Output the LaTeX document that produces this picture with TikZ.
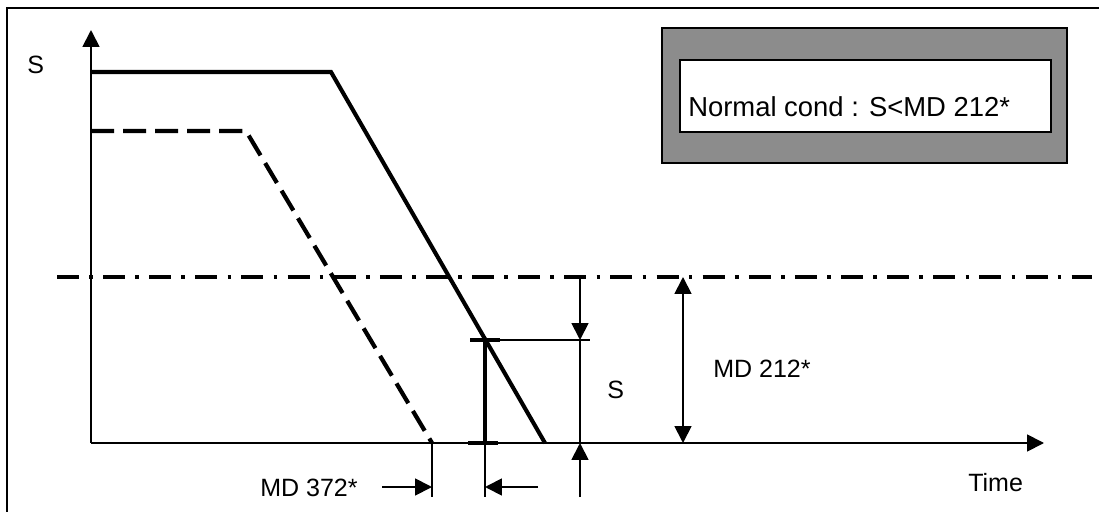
\documentclass[tikz,border=0pt]{standalone}
\usepackage{fontspec}
\setmainfont{Liberation Sans}
\usetikzlibrary{arrows.meta}
\begin{document}
\begin{tikzpicture}[x=0.025cm,y=-0.025cm,
  thinline/.style={line width=1.3pt},
  thickline/.style={line width=2.9pt},
  tip/.tip={Triangle[length=12pt,width=12pt]},
  arr/.style={thinline,-tip},
  dbl/.style={thinline,tip-tip},
  dashline/.style={line width=3pt,dash pattern=on 16.4pt off 6.4pt},
  dashdot/.style={line width=3.2pt,dash pattern=on 15.6pt off 7.3pt on 2.6pt off 7.3pt},
  lbl/.style={inner sep=0pt,anchor=base west,font=\fontsize{17.8}{20}\selectfont},
  boxlbl/.style={inner sep=0pt,anchor=base west,font=\fontsize{19.5}{22}\selectfont}]
\useasboundingbox (0,0) rectangle (1099,512);
% frame
\draw[line width=1.4pt] (7,512) -- (7,8) -- (1099,8);
% legend box
\draw[line width=0.9pt,fill=black!45] (662,28) rectangle (1067,163);
\draw[line width=1.3pt,fill=white] (680,60) rectangle (1051,132);
\node[boxlbl] (cond) at (688,117) {Normal cond : S<MD 212*};
% coordinates
\coordinate (O) at (91,443);
\coordinate (Ytop) at (91,30);
\coordinate (Xend) at (1044,443);
\coordinate (s1) at (91,72);
\coordinate (s2) at (331,72);
\coordinate (s3) at (545,443);
\coordinate (d1) at (91,131);
\coordinate (d2) at (246,131);
\coordinate (d3) at (432,443);
\coordinate (l1) at (57,277);
\coordinate (l2) at (1092,277);
\coordinate (b1) at (485,340);
\coordinate (b2) at (485,443);
\coordinate (h2) at (590,340);
\coordinate (v1) at (580,277);
\coordinate (v2) at (580,340);
\coordinate (v3) at (580,443);
\coordinate (v4) at (580,497);
\coordinate (m1) at (683,277);
\coordinate (m2) at (683,443);
\coordinate (e1) at (432,497);
\coordinate (e2) at (485,497);
\coordinate (a1s) at (382,487);
\coordinate (a1e) at (432,487);
\coordinate (a2s) at (538,487);
\coordinate (a2e) at (485,487);
% axes
\draw[arr] (O) -- (Ytop);
\draw[arr] (O) -- (Xend);
% curves
\draw[thickline,line join=miter] (s1) -- (s2) -- (s3);
\draw[dashline] (d1) -- (d2) -- (d3);
\draw[dashdot] (l1) -- (l2);
% bar
\draw[line width=3.3pt] (b1) -- (b2);
\draw[line width=3.3pt] (470,340) -- (500,340);
\draw[line width=3.3pt] (468,443) -- (498,443);
\draw[thinline] (b1) -- (h2);
% dimension S
\draw[arr] (v1) -- (v2);
\draw[thinline] (v2) -- (v3);
\draw[arr] (v4) -- (v3);
% dimension MD 212
\draw[dbl] (m1) -- (m2);
% MD 372 extension lines
\draw[thinline] (d3) -- (e1);
\draw[thinline] (b2) -- (e2);
\draw[arr] (a1s) -- (a1e);
\draw[arr] (a2s) -- (a2e);
% labels
\node[lbl] (lS) at (27,74) {S};
\node[lbl] (lS2) at (607,398) {S};
\node[lbl] (lMD212) at (713,377) {MD 212*};
\node[lbl] (lMD372) at (260,496) {MD 372*};
\node[lbl] (lTime) at (968,491) {Time};
\end{tikzpicture}
\end{document}
